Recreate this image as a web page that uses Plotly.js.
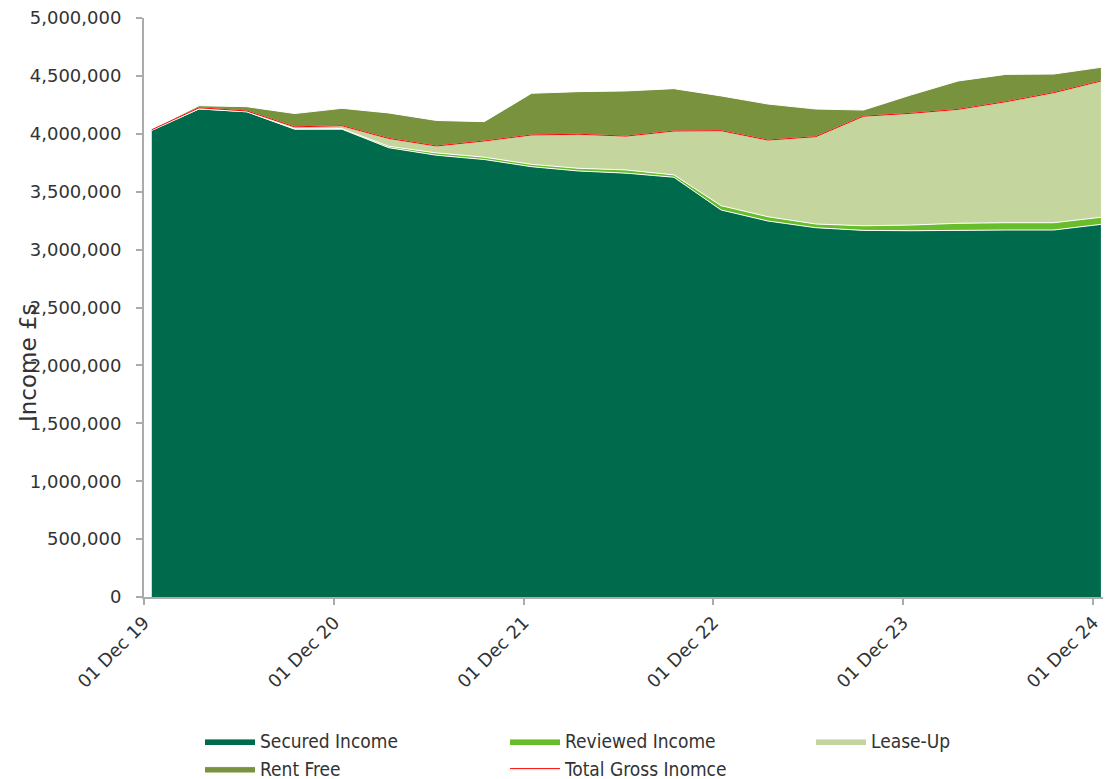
<!DOCTYPE html>
<html>
<head>
<meta charset="utf-8">
<script src="https://cdn.plot.ly/plotly-3.0.1.min.js"></script>
<style>
  html, body { margin: 0; padding: 0; background: #ffffff; }
  #chart { width: 1109px; height: 779px; }
</style>
</head>
<body>
<div id="chart"></div>
<script>
// Quarterly observation dates (plotted mid-month, as on a month-based date axis)
var dates = [
  "2019-12-16", "2020-03-16", "2020-06-16", "2020-09-16",
  "2020-12-16", "2021-03-16", "2021-06-16", "2021-09-16",
  "2021-12-16", "2022-03-16", "2022-06-16", "2022-09-16",
  "2022-12-16", "2023-03-16", "2023-06-16", "2023-09-16",
  "2023-12-16", "2024-03-16", "2024-06-16", "2024-09-16",
  "2024-12-16"
];

var securedIncome = [
  4030000, 4215000, 4190000, 4040000, 4040000, 3880000, 3815000, 3778000,
  3716000, 3679000, 3660000, 3625000, 3342000, 3247000, 3189000, 3166000,
  3163000, 3169000, 3169000, 3169000, 3218000
];

var reviewedIncome = [
  0, 0, 0, 3000, 5000, 12000, 20000, 20000,
  20000, 23000, 28000, 20000, 37000, 37000, 32000, 40000,
  49000, 58000, 63000, 63000, 61000
];

var leaseUp = [
  5000, 10000, 7000, 17000, 25000, 68000, 60000, 140000,
  254000, 294000, 292000, 379000, 648000, 662000, 754000, 946000,
  965000, 984000, 1045000, 1123000, 1177000
];

var rentFree = [
  5000, 18000, 37000, 115000, 150000, 220000, 220000, 167000,
  360000, 368000, 390000, 366000, 300000, 311000, 239000, 53000,
  158000, 245000, 236000, 161000, 118000
];

var totalGrossIncome = [
  4035000, 4225000, 4197000, 4060000, 4070000, 3960000, 3895000, 3938000,
  3990000, 3996000, 3980000, 4024000, 4027000, 3946000, 3975000, 4152000,
  4177000, 4211000, 4277000, 4355000, 4456000
];

var yTickValues = [0, 500000, 1000000, 1500000, 2000000, 2500000, 3000000, 3500000, 4000000, 4500000, 5000000];

var tickFont = { family: "DejaVu Sans, Liberation Sans, sans-serif", size: 18, color: "#333333" };
var legendFont = { family: "DejaVu Sans Condensed, DejaVu Sans, Liberation Sans, sans-serif", size: 19, color: "#333333" };

function area(name, y, color, legendId) {
  return {
    type: "scatter",
    mode: "lines",
    name: name,
    legend: legendId,
    x: dates,
    y: y,
    stackgroup: "income",
    fillcolor: color,
    line: { color: "#ffffff", width: 1 },
    hoverinfo: "x+y+name"
  };
}

var traces = [
  area("Secured Income", securedIncome, "#006B4C", "legend"),
  area("Reviewed Income", reviewedIncome, "#68BD2A", "legend2"),
  area("Lease-Up", leaseUp, "#C4D69D", "legend3"),
  area("Rent Free", rentFree, "#78923D", "legend"),
  {
    type: "scatter",
    mode: "lines",
    name: "Total Gross Inomce",
    legend: "legend2",
    x: dates,
    y: totalGrossIncome,
    line: { color: "#FF0000", width: 1 }
  }
];

function legendAt(px) {
  return {
    orientation: "v",
    x: (px - 144) / 959, xanchor: "left",
    y: -0.216, yanchor: "top",
    itemwidth: 50,
    traceorder: "normal",
    font: legendFont,
    bgcolor: "rgba(0,0,0,0)"
  };
}

var layout = {
  width: 1109,
  height: 779,
  margin: { l: 144, r: 6, t: 18, b: 182, autoexpand: false },
  paper_bgcolor: "#ffffff",
  plot_bgcolor: "#ffffff",
  showlegend: true,
  xaxis: {
    type: "date",
    range: ["2019-12-01", "2024-12-20"],
    tick0: "2019-12-01",
    dtick: "M12",
    tickformat: "%d %b %y",
    tickangle: -45,
    ticks: "outside",
    ticklen: 6,
    tickwidth: 2,
    tickcolor: "#ABABAB",
    showline: true,
    linecolor: "#ABABAB",
    linewidth: 2,
    showgrid: false,
    zeroline: false,
    tickfont: tickFont
  },
  yaxis: {
    range: [0, 5000000],
    tickvals: yTickValues,
    tickformat: ",",
    ticks: "outside",
    ticklen: 6,
    tickwidth: 2,
    tickcolor: "#ABABAB",
    showline: true,
    linecolor: "#ABABAB",
    linewidth: 2,
    showgrid: false,
    zeroline: false,
    ticklabelstandoff: 11,
    tickfont: tickFont
  },
  annotations: [{
    text: "Income £s",
    textangle: -90,
    xref: "paper", yref: "paper",
    x: (28 - 144) / 959, y: (597 - 363) / 579,
    xanchor: "center", yanchor: "middle",
    showarrow: false,
    font: { family: "DejaVu Sans, Liberation Sans, sans-serif", size: 23, color: "#333333" }
  }],
  legend: legendAt(200),
  legend2: legendAt(505),
  legend3: legendAt(811)
};

Plotly.newPlot("chart", traces, layout, { displayModeBar: false, staticPlot: true });
</script>
</body>
</html>
